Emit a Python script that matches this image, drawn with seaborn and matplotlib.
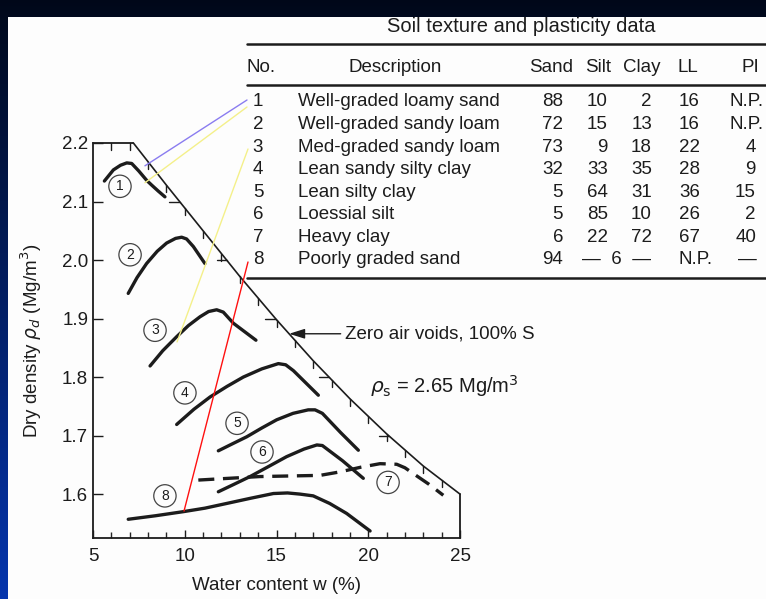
import numpy as np
import pandas as pd
import matplotlib
matplotlib.use("Agg")
import matplotlib.pyplot as plt
from matplotlib.patches import Rectangle
import seaborn as sns

# ---- compaction curves: water content w (%) and dry density (Mg/m3) ----
w1 = [5.62, 6.11, 6.5, 6.84, 7.11, 7.5, 7.93, 8.2, 8.55, 8.92]
d1 = [2.135, 2.154, 2.162, 2.166, 2.165, 2.152, 2.136, 2.128, 2.118, 2.108]
w2 = [6.92, 7.4, 7.92, 8.5, 9.01, 9.5, 9.83, 10.1, 10.47, 11.10]
d2 = [1.943, 1.970, 1.994, 2.015, 2.029, 2.037, 2.039, 2.036, 2.023, 1.994]
w3 = [8.11, 8.8, 9.56, 10.2, 10.83, 11.3, 11.74, 12.1, 12.65, 13.88]
d3 = [1.819, 1.845, 1.869, 1.888, 1.903, 1.912, 1.915, 1.911, 1.892, 1.863]
w4 = [9.56, 10.5, 11.38, 12.3, 13.19, 14.2, 15.10, 15.5, 15.92, 16.6, 17.28]
d4 = [1.719, 1.745, 1.766, 1.784, 1.800, 1.814, 1.823, 1.821, 1.811, 1.790, 1.769]
w5 = [11.83, 12.6, 13.38, 14.2, 15.01, 15.9, 16.73, 17.1, 17.5, 18.5, 19.46]
d5 = [1.674, 1.686, 1.698, 1.713, 1.727, 1.738, 1.744, 1.744, 1.738, 1.705, 1.675]
w6 = [11.83, 12.7, 13.56, 14.5, 15.55, 16.5, 17.2, 17.5, 18.6, 19.73]
d6 = [1.604, 1.617, 1.630, 1.646, 1.664, 1.677, 1.684, 1.683, 1.657, 1.627]
w7 = [10.74, 12.4, 14.10, 15.7, 17.37, 18.46, 19.6, 20.64, 21.55, 22.0, 22.46, 23.3, 24.09]
d7 = [1.624, 1.627, 1.630, 1.631, 1.632, 1.638, 1.646, 1.652, 1.651, 1.645, 1.635, 1.617, 1.598]
w8 = [6.92, 8.4, 9.92, 11.1, 12.28, 13.6, 14.83, 15.6, 16.28, 17.0, 17.9, 18.82, 20.10]
d8 = [1.557, 1.563, 1.570, 1.576, 1.584, 1.593, 1.601, 1.602, 1.600, 1.597, 1.584, 1.567, 1.537]

# zero-air-voids line (rho_s = 2.65 Mg/m3)
w_zav = [7.2, 9, 11, 13, 15, 17, 19, 21, 23, 25]
d_zav = [2.2, 2.128, 2.050, 1.972, 1.898, 1.828, 1.763, 1.703, 1.648, 1.6]

# circled curve numbers (w, rho)
lab_no = ["1", "2", "3", "4", "5", "6", "7", "8"]
lab_w = [6.47, 7.02, 8.38, 10.01, 12.85, 14.21, 21.08, 8.92]
lab_d = [2.126, 2.009, 1.880, 1.773, 1.721, 1.672, 1.620, 1.597]

# ---- soil texture and plasticity table ----
t_no = ["1", "2", "3", "4", "5", "6", "7", "8"]
t_desc = ["Well-graded loamy sand", "Well-graded sandy loam", "Med-graded sandy loam",
          "Lean sandy silty clay", "Lean silty clay", "Loessial silt", "Heavy clay",
          "Poorly graded sand"]
t_sand = ["88", "72", "73", "32", "5", "5", "6", "94"]
t_silt = ["10", "15", "9", "33", "64", "85", "22", ""]
t_clay = ["2", "13", "18", "35", "31", "10", "72", ""]
t_ll = ["16", "16", "22", "28", "36", "26", "67", "N.P."]
t_pi = ["N.P.", "N.P.", "4", "9", "15", "2", "40", "\u2014"]

curves = [(w1, d1), (w2, d2), (w3, d3), (w4, d4), (w5, d5), (w6, d6), (w7, d7), (w8, d8)]
frames = []
for i, (w, d) in enumerate(curves):
    frames.append(pd.DataFrame({"w": w, "rho": d, "soil": str(i + 1), "order": np.arange(len(w))}))
df = pd.concat(frames, ignore_index=True)

sns.set_theme(style="white")
plt.rcParams["font.family"] = ["Liberation Sans", "DejaVu Sans"]
plt.rcParams["mathtext.fontset"] = "dejavusans"

W, H = 766, 599
fig = plt.figure(figsize=(W / 100, H / 100), dpi=100)

# slide background: dark-blue gradient with a white panel
bg = fig.add_axes([0, 0, 1, 1], zorder=-10)
top = np.array([0.0, 0.03, 0.10])
bot = np.array([0.02, 0.21, 0.68])
t = np.linspace(0, 1, 300)[:, None]
grad = (top[None, :] * (1 - t) + bot[None, :] * t)[:, None, :]
bg.imshow(grad, aspect="auto", extent=[0, 1, 0, 1], origin="upper")
bg.add_patch(Rectangle((8 / W, 0), 1, 1 - 17 / H, transform=bg.transAxes,
                       facecolor="#fdfdfd", edgecolor="none"))
bg.set_xlim(0, 1)
bg.set_ylim(0, 1)
bg.axis("off")

ink = "#1c1c1c"
ax = fig.add_axes([93 / W, 1 - 538 / H, 367 / W, 395 / H])
ax.set_facecolor("none")

for soil, sub in df.groupby("soil"):
    style = (0, (4.8, 2.6)) if soil == "7" else "-"
    sns.lineplot(data=sub, x="w", y="rho", sort=False, estimator=None, ax=ax,
                 color=ink, lw=2.4, linestyle=style, legend=False)
    ax.lines[-1].set_solid_capstyle("round")

# frame: top edge, zero-air-voids line, right edge
ax.plot([5, w_zav[0]], [2.2, 2.2], color=ink, lw=1.3, clip_on=False)
ax.plot(w_zav, d_zav, color=ink, lw=1.2, clip_on=False)
ax.plot([25, 25], [d_zav[-1], 1.525], color=ink, lw=1.3, clip_on=False)

# inward ticks hanging from the top edge / zero-air-voids line
w_arr = np.array(w_zav)
d_arr = np.array(d_zav)
for wt in range(6, 25):
    yt = 2.2 if wt <= w_zav[0] else np.interp(wt, w_arr, d_arr)
    ax.plot([wt, wt], [yt, yt - 0.012], color=ink, lw=1.0, clip_on=False)
for yt in [2.1, 2.0, 1.9, 1.8, 1.7]:
    xt = np.interp(yt, d_arr[::-1], w_arr[::-1])
    ax.plot([xt - 0.55, xt], [yt, yt], color=ink, lw=1.0, clip_on=False)

ax.set_xlim(5, 25)
ax.set_ylim(1.525, 2.2)
ax.set_xticks([5, 10, 15, 20, 25])
ax.set_xticks(np.arange(5, 26, 1), minor=True)
ax.set_yticks([1.6, 1.7, 1.8, 1.9, 2.0, 2.1, 2.2])
ax.set_yticklabels(["1.6", "1.7", "1.8", "1.9", "2.0", "2.1", "2.2"])
ax.tick_params(axis="y", direction="in", length=7.5, width=1.0, pad=3.5,
               labelsize=13.5, colors=ink, left=True)
ax.tick_params(axis="x", which="major", direction="in", length=5.5, width=1.0, pad=7,
               labelsize=13.5, colors=ink, bottom=True)
ax.tick_params(axis="x", which="minor", direction="in", length=4.5, width=1.0, bottom=True)
for side in ["top", "right"]:
    ax.spines[side].set_visible(False)
for side in ["left", "bottom"]:
    ax.spines[side].set_color(ink)
    ax.spines[side].set_linewidth(1.3)

ax.set_xlabel("Water content w (%)", fontsize=13.5, color=ink, labelpad=9)
ax.set_ylabel(r"Dry density $\rho_d$ (Mg/m$^3$)", fontsize=13.5, color=ink, labelpad=13)

for n, x, y in zip(lab_no, lab_w, lab_d):
    ax.text(x, y, n, fontsize=10, ha="center", va="center", color=ink,
            bbox=dict(boxstyle="circle,pad=0.3", fc="none", ec="#444444", lw=0.9))

# zero-air-voids annotation
y_arrow = 1.874
x_arrow = np.interp(y_arrow, d_arr[::-1], w_arr[::-1])
ax.annotate("Zero air voids, 100% S", xy=(x_arrow, y_arrow), xytext=(18.75, y_arrow),
            fontsize=13.5, color=ink, ha="left", va="center", annotation_clip=False,
            arrowprops=dict(arrowstyle="-|>,head_length=0.7,head_width=0.22",
                            color=ink, lw=1.0, shrinkA=1, shrinkB=0))
ax.text(20.1, 1.785, r"$\rho_\mathrm{s}$ = 2.65 Mg/m$^3$", fontsize=14.5, color=ink,
        ha="left", va="center")

# ---- table ----
def fx(px):
    return px / W


def fy(py):
    return 1 - py / H


fs = 13.5
fig.text(fx(521), fy(27), "Soil texture and plasticity data", fontsize=14.5, color=ink,
         ha="center", va="center")
for yy, lw in [(44, 1.8), (85, 1.8), (278, 1.8)]:
    fig.add_artist(plt.Line2D([fx(247), fx(770)], [fy(yy), fy(yy)], color=ink, lw=lw,
                              transform=fig.transFigure))
hdr = [("No.", 247, "left"), ("Description", 395, "center"), ("Sand", 551, "center"),
       ("Silt", 598, "center"), ("Clay", 642, "center"), ("LL", 688, "center"),
       ("PI", 750, "center")]
for txt, x, ha in hdr:
    fig.text(fx(x), fy(67), txt, fontsize=fs, color=ink, ha=ha, va="center")

row_y = [102, 124.5, 147, 169.5, 192, 214.5, 237, 259.5]
for i, ry in enumerate(row_y):
    fig.text(fx(258), fy(ry), t_no[i], fontsize=fs, color=ink, ha="center", va="center")
    fig.text(fx(298), fy(ry), t_desc[i], fontsize=fs, color=ink, ha="left", va="center")
    fig.text(fx(563), fy(ry), t_sand[i], fontsize=fs, color=ink, ha="right", va="center")
    if t_silt[i]:
        fig.text(fx(608), fy(ry), t_silt[i], fontsize=fs, color=ink, ha="right", va="center")
        fig.text(fx(652), fy(ry), t_clay[i], fontsize=fs, color=ink, ha="right", va="center")
    else:
        fig.text(fx(617), fy(ry), "\u2014  6  \u2014", fontsize=fs, color=ink,
                 ha="center", va="center")
    if t_ll[i] == "N.P.":
        fig.text(fx(678), fy(ry), t_ll[i], fontsize=fs, color=ink, ha="left", va="center")
    else:
        fig.text(fx(700), fy(ry), t_ll[i], fontsize=fs, color=ink, ha="right", va="center")
    if t_pi[i] == "N.P.":
        fig.text(fx(764), fy(ry), t_pi[i], fontsize=fs, color=ink, ha="right", va="center")
    elif t_pi[i] == "\u2014":
        fig.text(fx(738), fy(ry), t_pi[i], fontsize=fs, color=ink, ha="left", va="center")
    else:
        fig.text(fx(756), fy(ry), t_pi[i], fontsize=fs, color=ink, ha="right", va="center")

# coloured pointer lines from table rows to the curves
pointers = [((7.83, 2.161), (247, 100), "#8a7cf0"),
            ((7.83, 2.132), (247, 107), "#f4f08a"),
            ((9.58, 1.860), (248, 149), "#f4f08a"),
            ((9.96, 1.571), (248, 262), "#ff1010")]
for (px_w, px_d), (tx, ty), col in pointers:
    ax.annotate("", xy=(px_w, px_d), xytext=(fx(tx), fy(ty)), textcoords="figure fraction",
                annotation_clip=False,
                arrowprops=dict(arrowstyle="-", color=col, lw=1.0, shrinkA=0, shrinkB=0))

fig.savefig("out.png", dpi=100)
